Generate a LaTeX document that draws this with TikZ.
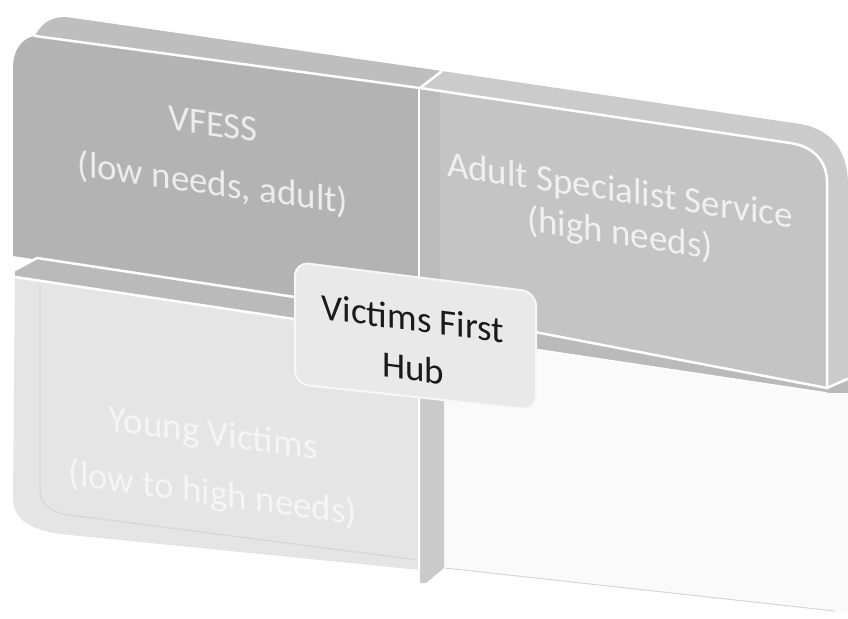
\documentclass[tikz,border=0pt]{standalone}
\usepackage{fontspec}
\setmainfont{Carlito}
\definecolor{tlface}{HTML}{B3B3B3}
\definecolor{tlbev}{HTML}{BEBEBE}
\definecolor{trface}{HTML}{C4C4C4}
\definecolor{trbev}{HTML}{CBCBCB}
\definecolor{trside}{HTML}{BBBBBB}
\definecolor{lowbev}{HTML}{BABABA}
\definecolor{blface}{HTML}{E5E5E5}
\definecolor{blinner}{HTML}{D6D6D6}
\definecolor{brface}{HTML}{FAFAFA}
\definecolor{brside}{HTML}{CACACA}
\definecolor{hubfill}{HTML}{E9E9E9}
\definecolor{hubedge}{HTML}{F7F7F7}
\definecolor{tltext}{HTML}{ECECEC}
\definecolor{trtext}{HTML}{F0F0F0}
\definecolor{bltext}{HTML}{F5F5F5}
\definecolor{hubtext}{HTML}{1A1A1A}
\begin{document}
\begin{tikzpicture}[x=1pt,y=-1pt,
  qtext/.style={anchor=base, inner sep=0pt, align=center},
  wline/.style={draw=white, line width=2.5pt, line join=round, line cap=round},
  thinw/.style={draw=white, line width=1.5pt, line cap=round}]
\useasboundingbox (0,0) rectangle (848,618);
\fill[white] (0,0) rectangle (848,618);
% bevels and faces
\fill[tlbev] (35,36) .. controls (42,22) and (52,17) .. (66,17) -- (442,71) -- (420,88) -- cycle;
\fill[trbev] (420,88) -- (442,71) -- (800,124) .. controls (835,130) and (848,155) .. (848,185) -- (848,382) -- (827,390) -- (827,182) .. controls (827,160) and (812,146) .. (790,143) -- cycle;
\fill[tlface] (13,256) -- (13,68) .. controls (13,50) and (22,38) .. (35,36) -- (420,88) -- (420,318) -- cycle;
\fill[trface] (420,88) -- (790,143) .. controls (812,146) and (827,160) .. (827,182) -- (827,388) -- (420,310) -- cycle;
\fill[trside] (420,88) -- (440,91) -- (440,314) -- (420,310) -- cycle;
\fill[lowbev] (420,310) -- (827,388) -- (848,381) -- (848,393) -- (827,393) -- (420,332) -- cycle;
\fill[brface] (420,332) -- (827,393) -- (848,393) -- (848,612) -- (835,611) -- (445,568) -- (420,583) -- cycle;
\draw[blinner, line width=1pt] (445,568) -- (835,611);
\fill[brside] (420,330) -- (444,334) -- (444,568) -- (426,583) -- (420,583) -- cycle;
\fill[lowbev] (15,270) -- (37,258) -- (420,316) -- (420,338) -- (15,277) -- cycle;
\fill[blface] (15,277) -- (420,338) -- (420,570) -- (70,535) .. controls (35,532) and (14,522) .. (13,500) -- cycle;
\draw[blinner, line width=1.2pt] (40,285) -- (40,490) .. controls (40,505) and (52,513) .. (70,515) -- (418,560);
% white edges
\draw[wline] (35,36) -- (420,88) -- (790,143) .. controls (812,146) and (827,160) .. (827,182) -- (827,388) -- (847,379);
\draw[wline] (420,88) -- (442,71);
\draw[wline] (419,88) -- (419,583);
\draw[wline] (420,310) -- (827,388);
\draw[thinw] (420,332) -- (827,393);
\draw[wline] (15,270) -- (37,258) -- (420,316);
\draw[wline] (15,277) -- (420,338);
% quadrant texts (anchor = baseline of the last line)
\node[qtext, text=tltext, yslant=-0.14, font=\fontsize{37}{59}\selectfont] (vfess) at (213,195) {VFESS\\(low needs, adult)};
\node[qtext, text=trtext, yslant=-0.15, font=\fontsize{37}{43}\selectfont] (adult) at (620,245) {Adult Specialist Service\\(high needs)};
\node[qtext, text=bltext, yslant=-0.14, font=\fontsize{37}{60}\selectfont] (young) at (213,505) {Young Victims\\(low to high needs)};
% hub
\draw[fill=hubfill, draw=hubedge, line width=2pt, rounded corners=14pt] (295,262) -- (536,292) -- (536,410) -- (295,384) -- cycle;
\node[qtext, text=hubtext, yslant=-0.13, font=\fontsize{37}{50}\selectfont] (hub) at (413,381) {Victims First\\Hub};
\end{tikzpicture}
\end{document}
